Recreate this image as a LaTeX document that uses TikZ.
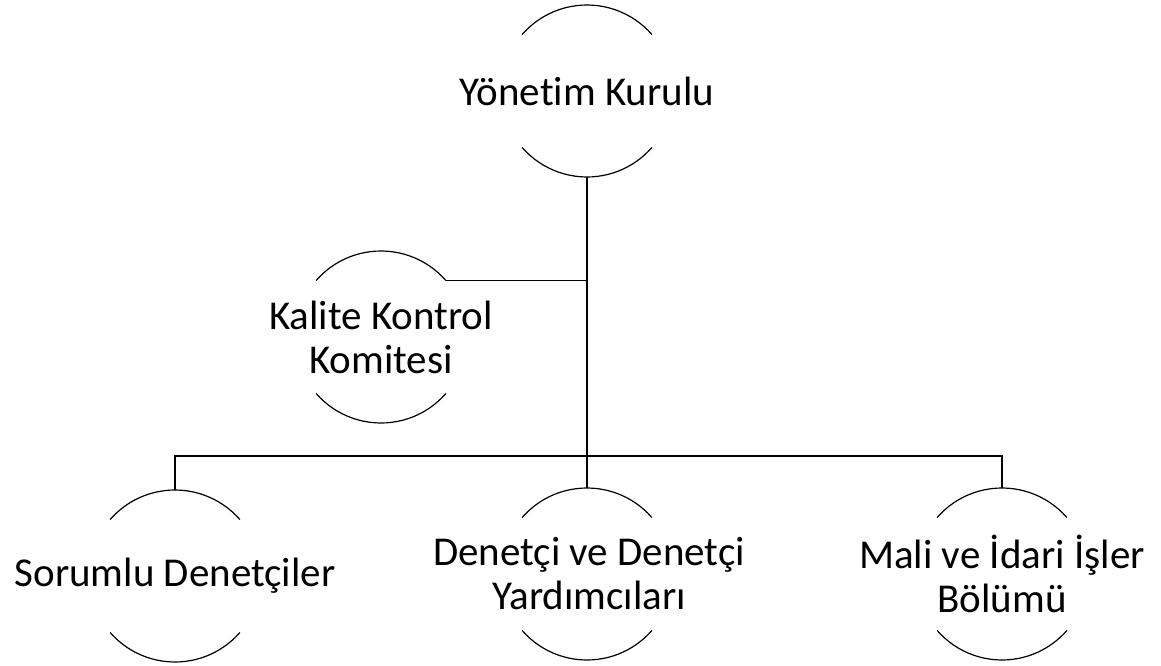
\documentclass[tikz,border=0pt]{standalone}
\usepackage{fontspec}
\setmainfont{Carlito}[Ligatures=NoCommon]
\begin{document}
\begin{tikzpicture}[x=1pt,y=1pt,
  orgtext/.style={font=\fontsize{41}{44}\selectfont, align=center, inner sep=0pt},
  arcline/.style={line width=1.2pt, black},
  conn/.style={line width=1.2pt, black}]
\useasboundingbox (0,0) rectangle (1161,665);
\newcommand\orgarcs[1]{%
  \draw[arcline] ([shift={(41:86pt)}]#1.center) arc[start angle=41,end angle=139,radius=86pt];
  \draw[arcline] ([shift={(221:86pt)}]#1.center) arc[start angle=221,end angle=319,radius=86pt];}
\node[orgtext] (yk) at (587,574) {Yönetim Kurulu};
\node[orgtext] (kk) at (381,328) {Kalite Kontrol\\Komitesi};
\node[orgtext] (sd) at (175,89) {Sorumlu Denetçiler};
\node[orgtext] (dd) at (589,91) {Denetçi ve Denetçi\\Yardımcıları};
\node[orgtext] (mi) at (1002,91) {Mali ve İdari İşler\\Bölümü};
\coordinate (ykc) at (587,574);
\coordinate (kkc) at (381,328);
\coordinate (sdc) at (175,89);
\coordinate (ddc) at (587,91);
\coordinate (mic) at (1002,91);
\foreach \n in {ykc,kkc,sdc,ddc,mic}{\orgarcs{\n}}
\coordinate (ykb) at ([yshift=-86pt]ykc);
\coordinate (ddt) at ([yshift=86pt]ddc);
\coordinate (sdt) at ([yshift=86pt]sdc);
\coordinate (mit) at ([yshift=86pt]mic);
\coordinate (kkr) at ([shift={(41:86pt)}]kkc);
\draw[conn] (ykb) -- (ddt);
\draw[conn] (kkr) -- (kkr -| ykb);
\draw[conn] (sdt) -- ++(0,34) -| (mit);
\end{tikzpicture}
\end{document}
